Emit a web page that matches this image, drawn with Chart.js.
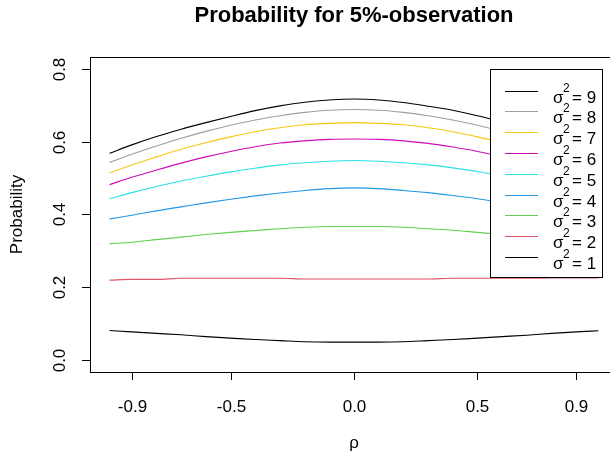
<!DOCTYPE html>
<html>
<head>
<meta charset="utf-8">
<script src="https://cdn.jsdelivr.net/npm/chart.js@4.4.1/dist/chart.umd.min.js"></script>
<style>
  html, body { margin: 0; padding: 0; background: #fff; overflow: hidden; }
  #wrap { width: 630px; height: 460px; }
</style>
</head>
<body>
<div id="wrap"><canvas id="probChart" width="630" height="460"></canvas></div>
<script>
const rho = [-0.99, -0.9, -0.8, -0.7, -0.6, -0.5, -0.4, -0.3, -0.2, -0.1, 0,
             0.1, 0.2, 0.3, 0.4, 0.5, 0.6, 0.7, 0.8, 0.9, 0.99];

// probability curves, one per sigma^2
const sigma1 = [0.082, 0.078, 0.074, 0.070, 0.065, 0.061, 0.057, 0.054, 0.051, 0.050, 0.050,
                0.050, 0.051, 0.054, 0.057, 0.061, 0.065, 0.069, 0.074, 0.078, 0.081];
const sigma2 = [0.220, 0.222, 0.222, 0.225, 0.225, 0.225, 0.225, 0.225, 0.223, 0.223, 0.223,
                0.223, 0.223, 0.223, 0.225, 0.225, 0.225, 0.225, 0.226, 0.226, 0.226];
const sigma3 = [0.320, 0.324, 0.331, 0.338, 0.345, 0.351, 0.356, 0.361, 0.365, 0.367, 0.367,
                0.367, 0.365, 0.361, 0.357, 0.351, 0.345, 0.338, 0.331, 0.324, 0.320];
const sigma4 = [0.388, 0.398, 0.410, 0.421, 0.432, 0.442, 0.451, 0.459, 0.466, 0.471, 0.473,
                0.471, 0.466, 0.460, 0.452, 0.443, 0.432, 0.421, 0.410, 0.398, 0.388];
const sigma5 = [0.443, 0.460, 0.477, 0.492, 0.505, 0.517, 0.527, 0.536, 0.542, 0.546, 0.548,
                0.546, 0.542, 0.536, 0.528, 0.518, 0.505, 0.492, 0.477, 0.460, 0.443];
const sigma6 = [0.482, 0.502, 0.522, 0.541, 0.558, 0.573, 0.586, 0.596, 0.602, 0.606, 0.607,
                0.606, 0.602, 0.595, 0.585, 0.573, 0.558, 0.541, 0.522, 0.502, 0.482];
const sigma7 = [0.514, 0.536, 0.558, 0.579, 0.597, 0.613, 0.627, 0.638, 0.646, 0.650, 0.652,
                0.650, 0.646, 0.638, 0.627, 0.613, 0.597, 0.579, 0.558, 0.536, 0.514];
const sigma8 = [0.543, 0.565, 0.588, 0.609, 0.628, 0.645, 0.659, 0.671, 0.680, 0.686, 0.688,
                0.686, 0.680, 0.671, 0.659, 0.645, 0.628, 0.609, 0.588, 0.565, 0.543];
const sigma9 = [0.568, 0.591, 0.614, 0.634, 0.652, 0.669, 0.685, 0.698, 0.708, 0.714, 0.717,
                0.714, 0.707, 0.697, 0.686, 0.671, 0.654, 0.636, 0.615, 0.592, 0.568];

const sigmaLabels = ['9', '8', '7', '6', '5', '4', '3', '2', '1'];
const xTicks = [-0.9, -0.5, 0.0, 0.5, 0.9];
const xTickLabels = ['-0.9', '-0.5', '0.0', '0.5', '0.9'];
const yTicks = [0, 0.2, 0.4, 0.6, 0.8];
const yTickLabels = ['0.0', '0.2', '0.4', '0.6', '0.8'];

// R default palette (col 9 wraps back to black)
const colors = ['#000000', '#9E9E9E', '#F5C710', '#CD0BBC', '#28E2E5', '#2297E6', '#61D04F', '#DF536B', '#000000'];
const series = [sigma9, sigma8, sigma7, sigma6, sigma5, sigma4, sigma3, sigma2, sigma1];

const FONT = '"Liberation Sans", Arial, sans-serif';

// draws the R-style box, ticks, labels, titles and the legend
const rPlotLook = {
  id: 'rPlotLook',
  afterDatasetsDraw(chart) {
    const ctx = chart.ctx;
    const area = chart.chartArea;
    const xs = chart.scales.x;
    const ys = chart.scales.y;
    ctx.save();
    ctx.strokeStyle = '#000';
    ctx.lineWidth = 1;
    ctx.fillStyle = '#000';

    // box
    ctx.strokeRect(Math.round(area.left) + 0.5, Math.round(area.top) + 0.5,
                   Math.round(area.right - area.left), Math.round(area.bottom - area.top));

    // x ticks
    ctx.font = '17px ' + FONT;
    ctx.textAlign = 'center';
    ctx.textBaseline = 'middle';
    xTicks.forEach((v, i) => {
      const px = Math.round(xs.getPixelForValue(v)) + 0.5;
      ctx.beginPath();
      ctx.moveTo(px, Math.round(area.bottom));
      ctx.lineTo(px, Math.round(area.bottom) + 8);
      ctx.stroke();
      ctx.fillText(xTickLabels[i], px, 407);
    });

    // y ticks, labels rotated like R
    yTicks.forEach((v, i) => {
      const py = Math.round(ys.getPixelForValue(v)) + 0.5;
      ctx.beginPath();
      ctx.moveTo(Math.round(area.left), py);
      ctx.lineTo(Math.round(area.left) - 8, py);
      ctx.stroke();
      ctx.save();
      ctx.translate(60, py);
      ctx.rotate(-Math.PI / 2);
      ctx.fillText(yTickLabels[i], 0, 0);
      ctx.restore();
    });

    // axis titles
    ctx.fillText('\u03C1', (area.left + area.right) / 2, 443);
    ctx.save();
    ctx.translate(17, (area.top + area.bottom) / 2);
    ctx.rotate(-Math.PI / 2);
    ctx.fillText('Probability', 0, 0);
    ctx.restore();

    // main title
    ctx.font = 'bold 22px ' + FONT;
    ctx.fillText('Probability for 5%-observation', (area.left + area.right) / 2, 16);

    // legend
    const lx = 490.5, ly = 69.5, lw = 112, lh = 208;
    ctx.fillStyle = '#fff';
    ctx.fillRect(lx, ly, lw, lh);
    ctx.strokeRect(lx, ly, lw, lh);
    ctx.textAlign = 'left';
    ctx.textBaseline = 'alphabetic';
    sigmaLabels.forEach((lab, i) => {
      const yy = 90.5 + i * 20.8;
      ctx.strokeStyle = colors[i];
      ctx.beginPath();
      ctx.moveTo(505, Math.round(yy) + 0.5);
      ctx.lineTo(538, Math.round(yy) + 0.5);
      ctx.stroke();
      ctx.fillStyle = '#000';
      ctx.font = '17px ' + FONT;
      ctx.fillText('\u03C3', 553, yy + 12);
      ctx.font = '12px ' + FONT;
      ctx.fillText('2', 563, yy + 1);
      ctx.font = '17px ' + FONT;
      ctx.fillText('= ' + lab, 572, yy + 12);
    });
    ctx.restore();
  }
};

const ctx = document.getElementById('probChart').getContext('2d');
const probChart = new Chart(ctx, {
  type: 'line',
  data: {
    datasets: series.map((vals, i) => ({
      label: 'sigma^2 = ' + sigmaLabels[i],
      data: rho.map((r, j) => ({ x: r, y: vals[j] })),
      borderColor: colors[i],
      borderWidth: 1.1,
      pointRadius: 0,
      cubicInterpolationMode: 'monotone',
      fill: false,
    })),
  },
  options: {
    responsive: false,
    animation: false,
    layout: { padding: { left: 90, right: 12, top: 57, bottom: 88 } },
    plugins: { legend: { display: false }, title: { display: false }, tooltip: { enabled: false } },
    scales: {
      x: { type: 'linear', display: false, min: -1.0692, max: 1.0692 },
      y: { type: 'linear', display: false, min: -0.032, max: 0.832 },
    },
  },
  plugins: [rPlotLook],
});
</script>
</body>
</html>
